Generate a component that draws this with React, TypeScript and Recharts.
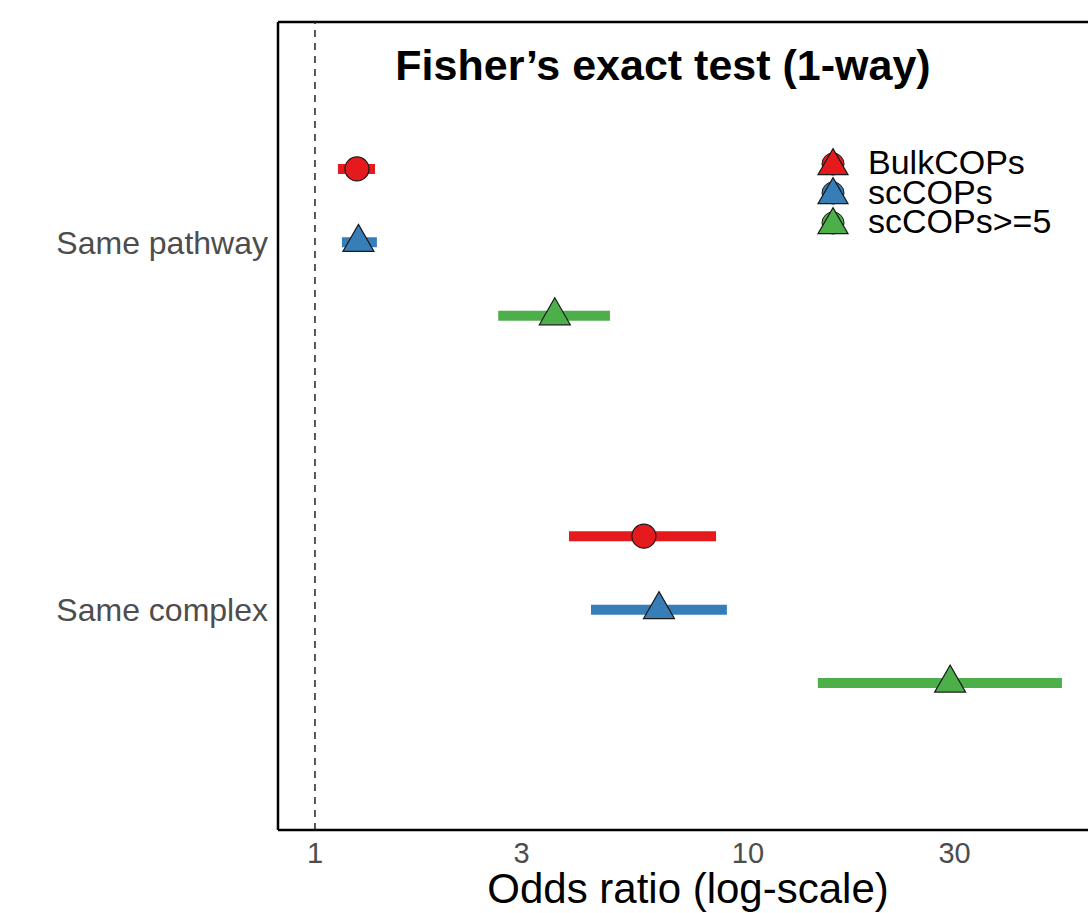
import React from "react";
import { ScatterChart, Scatter, XAxis, YAxis, ErrorBar, ReferenceLine } from "recharts";

// Odds ratios with 95% CI
const categories = ["Same complex", "Same pathway"];
const seriesNames = ["BulkCOPs", "scCOPs", "scCOPs>=5"];

const bulkOR = [5.75, 1.25];
const bulkLow = [3.86, 1.13];
const bulkHigh = [8.44, 1.376];

const scOR = [6.23, 1.26];
const scLow = [4.34, 1.154];
const scHigh = [8.94, 1.39];

const sc5OR = [29.3, 3.58];
const sc5Low = [14.5, 2.65];
const sc5High = [53.1, 4.8];

const xTicks = [1, 3, 10, 30];

const COLORS = ["#E41A1C", "#377EB8", "#4DAF4A"];
const SHAPES = ["circle", "triangle", "triangle"];
const DODGE = 0.2;
const FONT = '"Liberation Sans", Arial, Helvetica, sans-serif';

const seriesValues = [
  { or: bulkOR, lo: bulkLow, hi: bulkHigh },
  { or: scOR, lo: scLow, hi: scHigh },
  { or: sc5OR, lo: sc5Low, hi: sc5High },
];

const seriesData = seriesValues.map((s, si) =>
  categories.map((c, ci) => ({
    category: c,
    or: s.or[ci],
    y: ci + 1 + (1 - si) * DODGE,
    err: [s.or[ci] - s.lo[ci], s.hi[ci] - s.or[ci]],
  }))
);

function Marker({ cx, cy, fill, kind, r = 12, w = 31, h = 27 }: any) {
  if (kind === "circle") {
    return <circle cx={cx} cy={cy} r={r} fill={fill} stroke="#1a1a1a" strokeWidth={1.2} />;
  }
  const pts = `${cx},${cy - (2 * h) / 3} ${cx + w / 2},${cy + h / 3} ${cx - w / 2},${cy + h / 3}`;
  return <polygon points={pts} fill={fill} stroke="#1a1a1a" strokeWidth={1.2} strokeLinejoin="miter" />;
}

// legend drawn as an overlay so it doesn't shrink the plot area
const LegendBox = () => (
  <div style={{ position: "absolute", left: 815, top: 148, fontFamily: FONT, zIndex: 2 }}>
    {seriesNames.map((n, i) => (
      <div key={n} style={{ display: "flex", alignItems: "center", height: 29.5 }}>
        <svg width={36} height={30} style={{ overflow: "visible" }}>
          <circle cx={18} cy={16} r={11} fill={COLORS[i]} stroke="#1a1a1a" strokeWidth={1} />
          <Marker cx={18} cy={18} fill={COLORS[i]} kind="triangle" w={30} h={26} />
        </svg>
        <span style={{ fontSize: 34, lineHeight: "29.5px", marginLeft: 17, color: "#000" }}>{n}</span>
      </div>
    ))}
  </div>
);

export default function App() {
  return (
    <div style={{ position: "absolute", left: 0, top: 0, width: 1088, height: 913, background: "#fff", fontFamily: FONT, overflow: "hidden" }}>
      <div
        style={{
          position: "absolute",
          left: 663,
          top: 44,
          transform: "translateX(-50%)",
          fontSize: 43,
          lineHeight: 1,
          fontWeight: "bold",
          whiteSpace: "nowrap",
          color: "#000",
          zIndex: 2,
        }}
      >
        Fisher’s exact test (1-way)
      </div>
      <LegendBox />
      <ScatterChart width={1088} height={913} margin={{ top: 22, right: 0, bottom: 0, left: 8 }} style={{ fontFamily: FONT }}>
        <XAxis
          type="number"
          dataKey="or"
          scale="log"
          domain={[0.8215, 61]}
          allowDataOverflow
          ticks={xTicks}
          height={83}
          tickLine={false}
          tickSize={0}
          tickMargin={12}
          axisLine={{ stroke: "#000", strokeWidth: 2.5 }}
          tick={{ fontSize: 29, fill: "#4D4D4D" }}
          label={{ value: "Odds ratio (log-scale)", position: "insideBottom", offset: 10, dx: 5, fontSize: 42, fill: "#000" }}
        />
        <YAxis
          type="number"
          dataKey="y"
          domain={[0.4, 2.6]}
          allowDataOverflow
          ticks={[1, 2]}
          tickFormatter={(v: number) => categories[v - 1] ?? ""}
          width={270}
          tickLine={false}
          tickSize={0}
          tickMargin={10}
          axisLine={{ stroke: "#000", strokeWidth: 2.5 }}
          tick={{ fontSize: 32, fill: "#4D4D4D" }}
        />
        <ReferenceLine y={2.6} stroke="#000" strokeWidth={2.5} />
        <ReferenceLine x={1} stroke="#222" strokeWidth={1.5} strokeDasharray="7 6" />
        {seriesData.map((d, i) => (
          <Scatter
            key={seriesNames[i]}
            name={seriesNames[i]}
            data={d}
            fill={COLORS[i]}
            isAnimationActive={false}
            shape={(p: any) => <Marker cx={p.cx} cy={p.cy} fill={COLORS[i]} kind={SHAPES[i]} />}
          >
            <ErrorBar dataKey="err" direction="x" width={0} stroke={COLORS[i]} strokeWidth={10} isAnimationActive={false} />
          </Scatter>
        ))}
      </ScatterChart>
    </div>
  );
}
